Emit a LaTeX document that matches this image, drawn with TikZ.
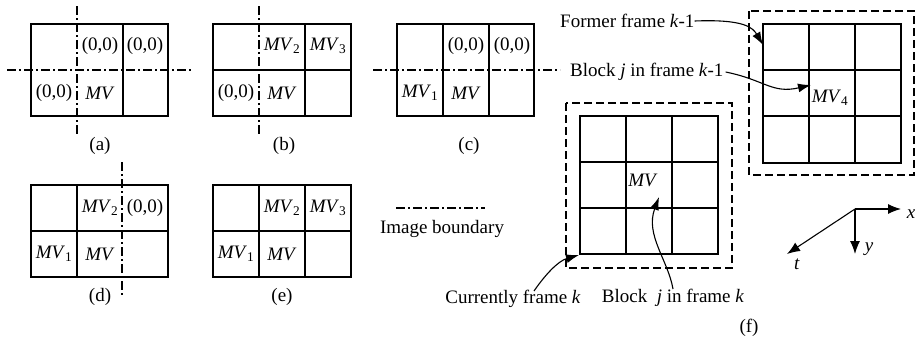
\documentclass[tikz,border=0pt]{standalone}
\usepackage{fontspec}
\setmainfont{Liberation Serif}
\usetikzlibrary{arrows.meta}
\newcommand{\mvsub}[1]{\textit{MV}\textsubscript{#1}}
\begin{document}
\begin{tikzpicture}[x=1pt,y=-1pt,
  every node/.style={font=\fontsize{19}{22}\selectfont, inner sep=0pt},
  cellline/.style={line width=1.1pt},
  boundary/.style={line width=1.8pt, dash pattern=on 9pt off 3pt on 2pt off 3pt},
  framebox/.style={line width=2pt, dash pattern=on 8pt off 4pt},
  pointer/.style={line width=1.1pt, -{Latex[length=13pt,width=9pt]}},
  axis/.style={line width=1.1pt, -{Latex[length=13pt,width=10pt]}},
]
\useasboundingbox (0,0) rectangle (916,340);

% ---------- (a) ----------
\draw[cellline] (31,24) rectangle (168,116);
\draw[cellline] (123,24) -- (123,116);
\draw[boundary] (77,6) -- (77,135);
\draw[boundary] (7,70) -- (192,70);
\node (a12) at (100,46) {(0,0)};
\node (a13) at (145,46) {(0,0)};
\node (a21) at (54,93) {(0,0)};
\node (a22) at (100,93) {\textit{MV}};
\node (capa) at (100,146) {(a)};

% ---------- (b) ----------
\draw[cellline] (213,24) rectangle (351,116);
\draw[cellline] (213,70) -- (351,70);
\draw[cellline] (305,24) -- (305,116);
\draw[boundary] (259,6) -- (259,135);
\node (b12) at (282,46) {\mvsub{2}};
\node (b13) at (328,46) {\mvsub{3}};
\node (b21) at (236,93) {(0,0)};
\node (b22) at (282,93) {\textit{MV}};
\node (capb) at (284,146) {(b)};

% ---------- (c) ----------
\draw[cellline] (397,24) rectangle (534,116);
\draw[cellline] (443,24) -- (443,116);
\draw[cellline] (489,24) -- (489,116);
\draw[boundary] (373,70) -- (560,70);
\node (c12) at (466,46) {(0,0)};
\node (c13) at (512,46) {(0,0)};
\node (c21) at (420,93) {\mvsub{1}};
\node (c22) at (466,93) {\textit{MV}};
\node (capc) at (469,146) {(c)};

% ---------- (d) ----------
\draw[cellline] (31,185) rectangle (168,277);
\draw[cellline] (31,231) -- (168,231);
\draw[cellline] (77,185) -- (77,277);
\draw[boundary] (122,162) -- (122,297);
\node (d12) at (100,208) {\mvsub{2}};
\node (d13) at (145,208) {(0,0)};
\node (d21) at (54,254) {\mvsub{1}};
\node (d22) at (100,254) {\textit{MV}};
\node (capd) at (100,297) {(d)};

% ---------- (e) ----------
\draw[cellline] (213,185) rectangle (351,277);
\draw[cellline] (213,231) -- (351,231);
\draw[cellline] (259,185) -- (259,277);
\draw[cellline] (305,185) -- (305,277);
\node (e12) at (282,208) {\mvsub{2}};
\node (e13) at (328,208) {\mvsub{3}};
\node (e21) at (236,254) {\mvsub{1}};
\node (e22) at (282,254) {\textit{MV}};
\node (cape) at (282,297) {(e)};

% ---------- legend ----------
\draw[boundary] (396,208) -- (485,208);
\node (legend) at (442,229) {Image boundary};

% ---------- (f): former frame k-1 ----------
\draw[framebox] (749,11) rectangle (914,175);
\draw[cellline] (763,24) rectangle (901,163);
\draw[cellline] (809,24) -- (809,163);
\draw[cellline] (855,24) -- (855,163);
\draw[cellline] (763,70) -- (901,70);
\draw[cellline] (763,116) -- (901,116);
\node (mv4) at (830,98) {\mvsub{4}};
\coordinate (prevcorner) at (763,45);

% ---------- (f): current frame k ----------
\draw[framebox] (566,103) rectangle (732,268);
\draw[cellline] (580,116) rectangle (718,254);
\draw[cellline] (626,116) -- (626,254);
\draw[cellline] (672,116) -- (672,254);
\draw[cellline] (580,162) -- (718,162);
\draw[cellline] (580,208) -- (718,208);
\node (mvk) at (643,180) {\textit{MV}};
\coordinate (curcorner) at (579,255);
\coordinate (curblock) at (659,197);
\coordinate (prevblock) at (811,85);

% ---------- (f): labels and pointers ----------
\node[anchor=west] (former) at (560,21) {Former frame \textit{k}-1};
\node[anchor=west] (blockprev) at (570,72) {Block \textit{j} in frame \textit{k}-1};
\node (current) at (513,299) {Currently frame \textit{k}};
\node (blockcur) at (673,298) {Block~~\textit{j} in frame \textit{k}};
\node (capf) at (749,328) {(f)};

\draw[pointer] (former.east) .. controls (745,19) and (753,28) .. (prevcorner);
\draw[pointer] ([xshift=2pt]blockprev.east) .. controls (765,80) and (772,94) .. (prevblock);
\draw[pointer] (534,291) .. controls (545,275) and (558,261) .. (curcorner);
\draw[pointer] (673,289) .. controls (668,260) and (645,235) .. (curblock);

% ---------- axes ----------
\coordinate (origin) at (855,209);
\node (xlab) at (911,214) {\textit{x}};
\node (ylab) at (869,249) {\textit{y}};
\node (tlab) at (797,264) {\textit{t}};
\draw[axis] (origin) -- (901,209);
\draw[axis] (origin) -- (855,254);
\draw[axis] (origin) -- (787,254);
\end{tikzpicture}
\end{document}
